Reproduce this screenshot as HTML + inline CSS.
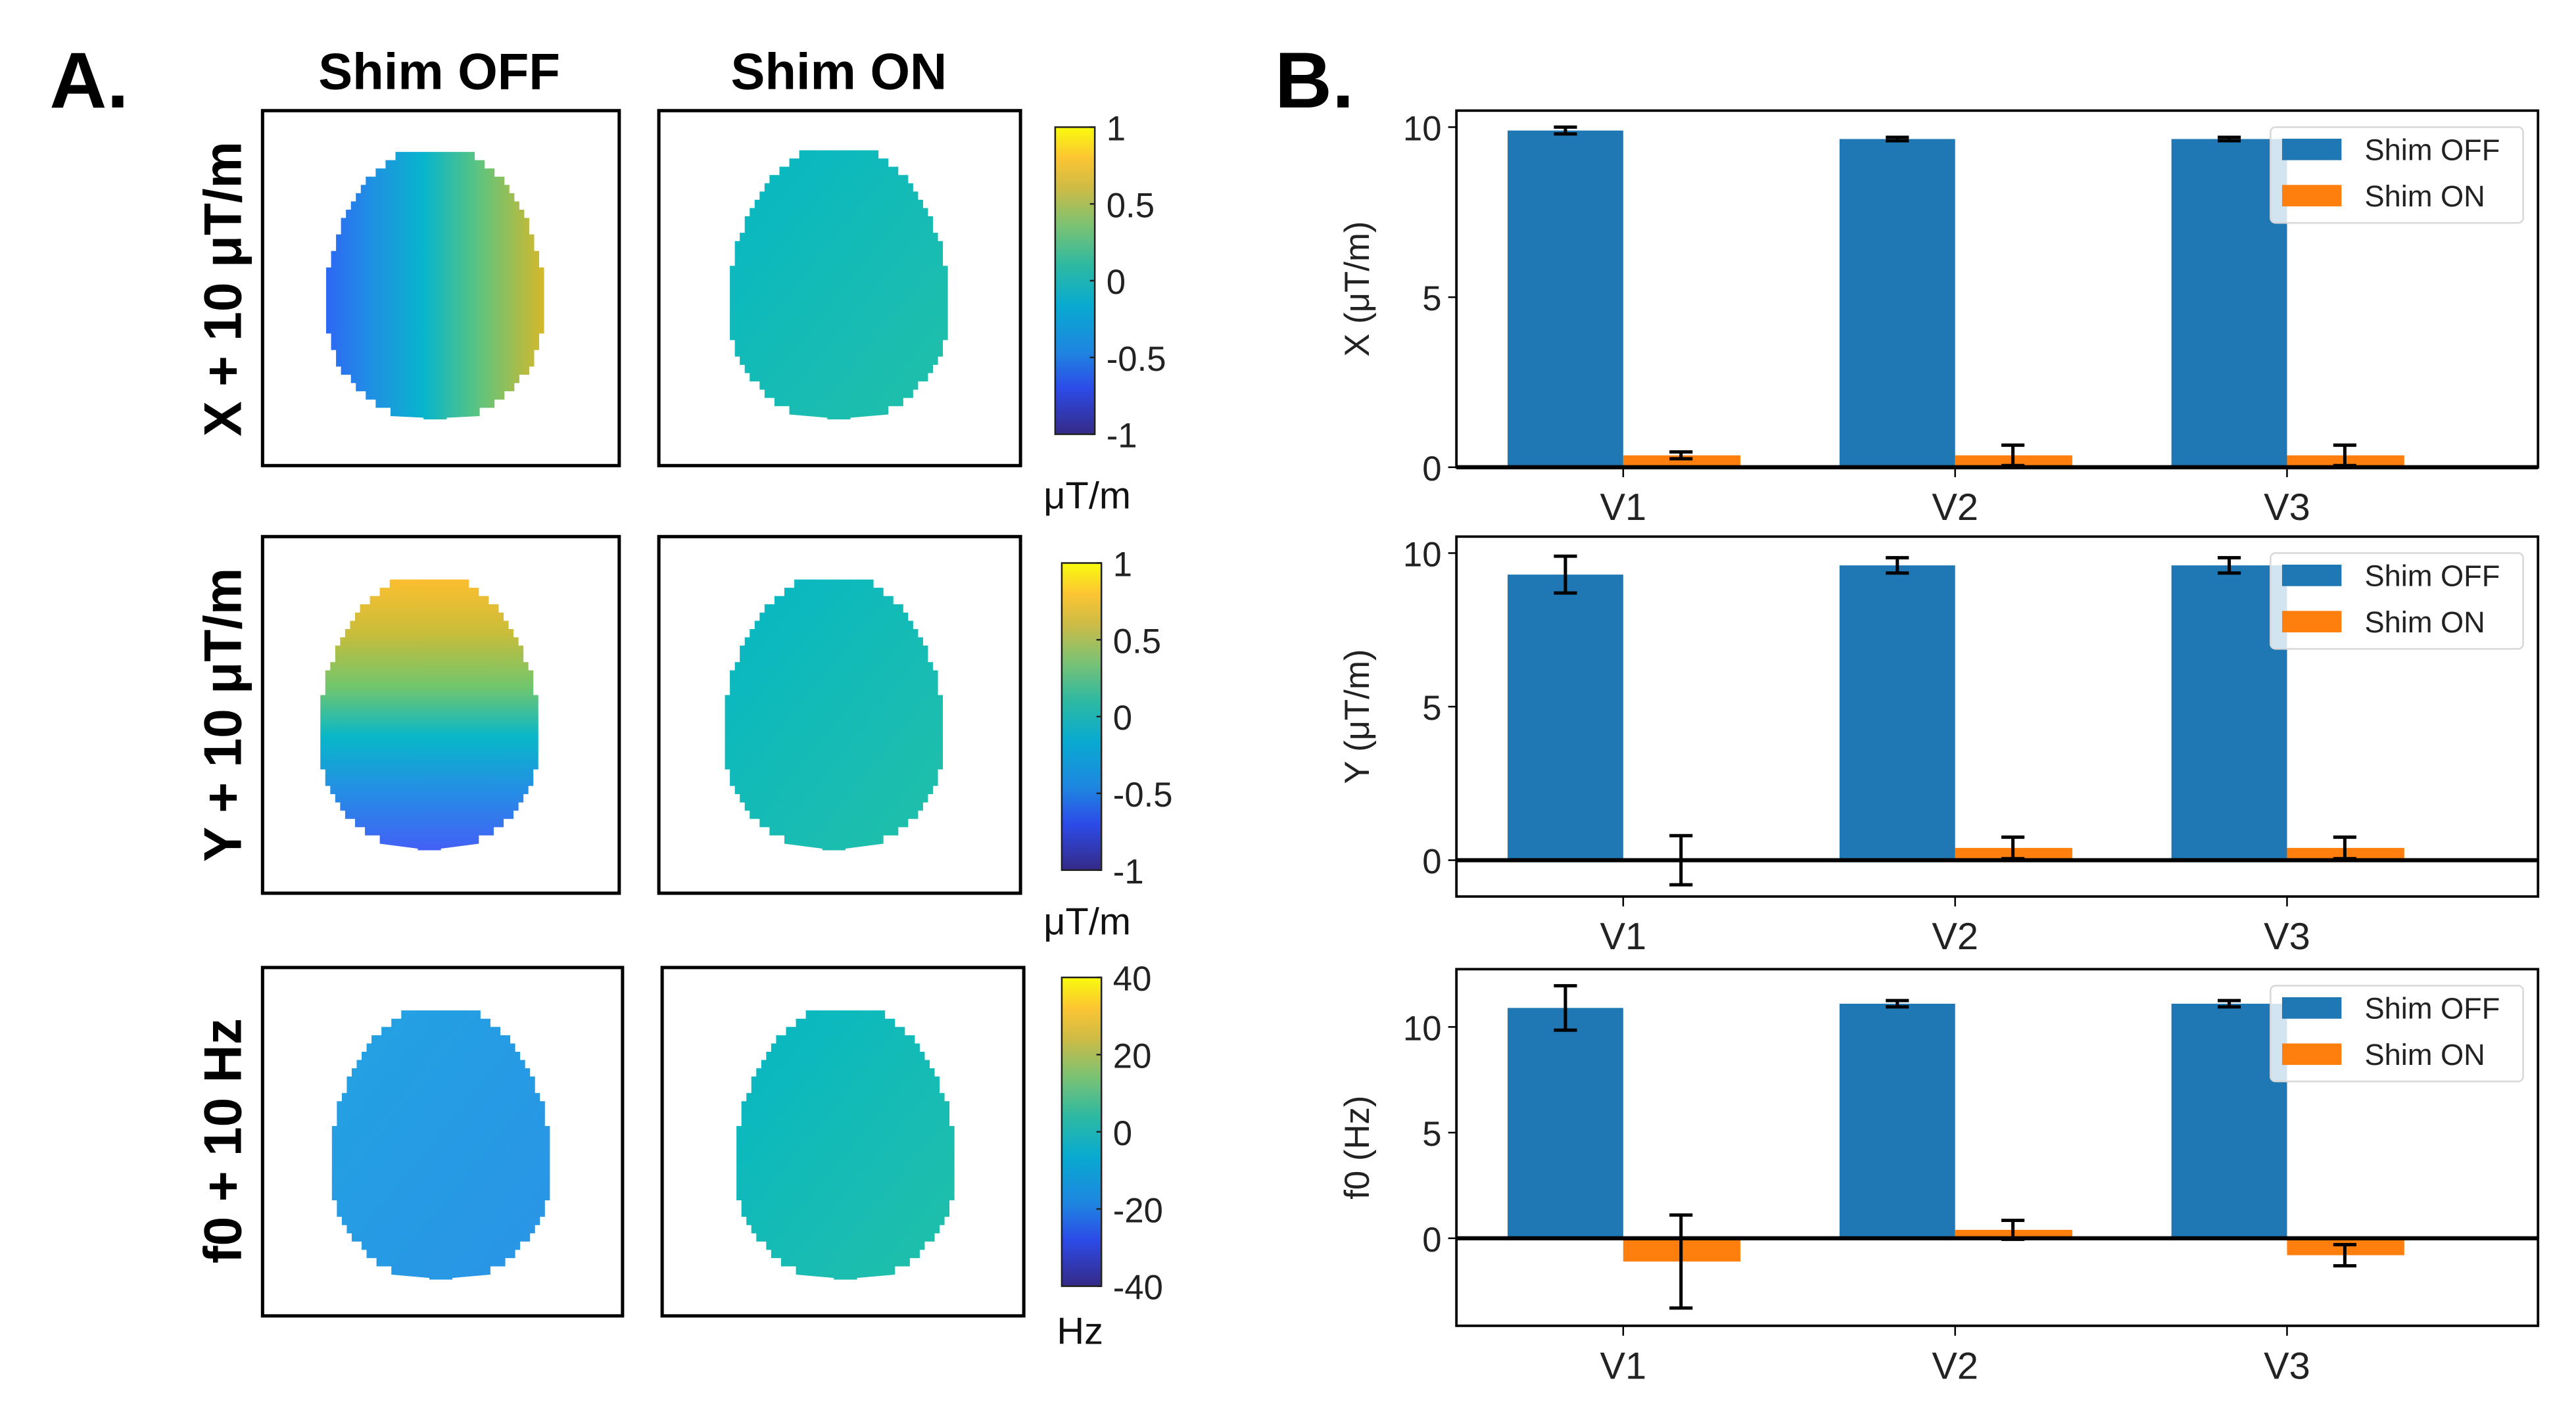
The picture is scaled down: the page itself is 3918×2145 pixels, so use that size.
<!DOCTYPE html>
<html><head><meta charset="utf-8"><style>
html,body{margin:0;padding:0;background:#fff;overflow:hidden;}
svg{display:block;}
text{font-family:"Liberation Sans","DejaVu Sans",sans-serif;}
</style></head>
<body>
<svg id="fig" xmlns="http://www.w3.org/2000/svg" width="3918" height="2145" viewBox="0 0 1560 854" preserveAspectRatio="none">
<defs>
<linearGradient id="parula" x1="0" y1="1" x2="0" y2="0">
<stop offset="0" stop-color="#352a87"/><stop offset="0.15" stop-color="#2c4be8"/><stop offset="0.27" stop-color="#1e86e0"/><stop offset="0.42" stop-color="#08aad0"/><stop offset="0.55" stop-color="#2db9a2"/><stop offset="0.68" stop-color="#7cc273"/><stop offset="0.8" stop-color="#cdbb46"/><stop offset="0.9" stop-color="#fcc532"/><stop offset="1" stop-color="#f9fb0e"/>
</linearGradient>
<linearGradient id="gx" x1="0" y1="0" x2="1" y2="0">
<stop offset="0" stop-color="#2d68f4"/><stop offset="0.22" stop-color="#1f92e2"/><stop offset="0.45" stop-color="#07b5cc"/><stop offset="0.7" stop-color="#5dc47e"/><stop offset="1" stop-color="#d6b82a"/>
</linearGradient>
<linearGradient id="gy" x1="0" y1="0" x2="0" y2="1">
<stop offset="0" stop-color="#fcbe30"/><stop offset="0.2" stop-color="#c8bd3a"/><stop offset="0.4" stop-color="#6fc66e"/><stop offset="0.58" stop-color="#08b7c8"/><stop offset="0.78" stop-color="#248ee4"/><stop offset="1" stop-color="#4360f6"/>
</linearGradient>
<linearGradient id="gon" x1="0" y1="0" x2="1" y2="1">
<stop offset="0" stop-color="#06b7c4"/><stop offset="1" stop-color="#22bfa8"/>
</linearGradient>
<linearGradient id="gf" x1="0" y1="0" x2="1" y2="1">
<stop offset="0" stop-color="#22a2e2"/><stop offset="1" stop-color="#2a94e6"/>
</linearGradient>
</defs>

<text x="30" y="65" font-size="48" font-weight="bold">A.</text>
<text x="266" y="54" font-size="31" font-weight="bold" text-anchor="middle">Shim OFF</text>
<text x="508" y="54" font-size="31" font-weight="bold" text-anchor="middle">Shim ON</text>

<text transform="translate(146,175) rotate(-90)" font-size="32" font-weight="bold" text-anchor="middle">X + 10 μT/m</text>
<text transform="translate(146,433) rotate(-90)" font-size="32" font-weight="bold" text-anchor="middle">Y + 10 μT/m</text>
<text transform="translate(146,691) rotate(-90)" font-size="32" font-weight="bold" text-anchor="middle">f0 + 10 Hz</text>

<g id="maps"></g>

<text x="772" y="65" font-size="48" font-weight="bold">B.</text>
<g id="charts"></g>
</svg>

<script>
const NS = "http://www.w3.org/2000/svg";
function mk(tag, attrs, parent){ const e=document.createElementNS(NS,tag); for(const k in attrs) e.setAttribute(k,attrs[k]); parent.appendChild(e); return e; }

const maps = document.getElementById('maps');
const mapBoxes = [
  {x:159,y:67,w:216,h:215,fill:'url(#gx)',hx:[197,330],hy:[92,254],name:'map-x-shim-off'},
  {x:399,y:67,w:219,h:215,fill:'url(#gon)',hx:[441,575],hy:[91,254],name:'map-x-shim-on'},
  {x:159,y:325,w:216,h:216,fill:'url(#gy)',hx:[193,327],hy:[351,515],name:'map-y-shim-off'},
  {x:399,y:325,w:219,h:216,fill:'url(#gon)',hx:[438,572],hy:[351,515],name:'map-y-shim-on'},
  {x:159,y:586,w:218,h:211,fill:'url(#gf)',hx:[200,334],hy:[612,775],name:'map-f0-shim-off'},
  {x:401,y:586,w:219,h:211,fill:'url(#gon)',hx:[445,579],hy:[612,775],name:'map-f0-shim-on'}
];
function headPath(x0,x1,y0,y1){
  const cx=(x0+x1)/2, hw=(x1-x0)/2, H=y1-y0-6, step=5;
  let right=[], left=[];
  for(let yy=0; yy<=H; yy+=step){
    const t=yy/H; let w;
    if(t<0.6){ const u=(0.6-t)/0.64; w=Math.sqrt(Math.max(0,1-u*u));}
    else { const u=(t-0.6)/0.43; w=Math.sqrt(Math.max(0,1-u*u)); }
    w=Math.max(w,0.25);
    const px=Math.round(hw*w/3)*3;
    right.push([cx+px,y0+yy]); left.push([cx-px,y0+yy]);
  }
  let d='M'+left[0][0]+' '+left[0][1];
  for(let i=0;i<right.length;i++){ const p=right[i]; d+=' L'+p[0]+' '+p[1]+' L'+p[0]+' '+(p[1]+step); }
  d+=' L'+(cx+7)+' '+(y0+H+step)+' L'+(cx+7)+' '+y1+' L'+(cx-7)+' '+y1+' L'+(cx-7)+' '+(y0+H+step);
  for(let i=left.length-1;i>=0;i--){ const p=left[i]; d+=' L'+p[0]+' '+(p[1]+step)+' L'+p[0]+' '+p[1]; }
  return d+' Z';
}
mapBoxes.forEach(b=>{
  const g=mk('g',{},maps);
  
  
  const r=mk('rect',{x:b.x,y:b.y,width:b.w,height:b.h,fill:'#fff',stroke:'#000','stroke-width':2},g);
  
  
  const p=mk('path',{d:headPath(b.hx[0],b.hx[1],b.hy[0],b.hy[1]),fill:b.fill},g);
  
  
});

const cbars = [
  {x:639,y:77,h:186,labels:['1','0.5','0','-0.5','-1'],unit:'μT/m',ux:632,uy:308,name:'colorbar-x'},
  {x:643,y:341,h:186,labels:['1','0.5','0','-0.5','-1'],unit:'μT/m',ux:632,uy:566,name:'colorbar-y'},
  {x:643,y:592,h:187,labels:['40','20','0','-20','-40'],unit:'Hz',ux:640,uy:814,name:'colorbar-f0'}
];
cbars.forEach(c=>{
  const g=mk('g',{},maps);
  
  
  mk('rect',{x:c.x,y:c.y,width:24,height:c.h,fill:'url(#parula)',stroke:'#222','stroke-width':1},g);
  c.labels.forEach((l,i)=>{
    const yy=c.y+c.h*i/4;
    mk('line',{x1:c.x+21,x2:c.x+24,y1:yy,y2:yy,stroke:'#222','stroke-width':1},g);
    const t=mk('text',{x:c.x+31,y:yy+8,'font-size':21,fill:'#222'},g);
    t.textContent=l;
    
    
  });
  const u=mk('text',{x:c.ux,y:c.uy,'font-size':23,fill:'#111'},g);
  u.textContent=c.unit;
  
  
});

const categories = ['V1','V2','V3'];
const xOffMean = [9.9, 9.65, 9.65];
const xOffErr  = [0.1, 0.05, 0.05];
const xOnMean  = [0.35, 0.35, 0.35];
const xOnErr   = [0.1, 0.3, 0.3];
const yOffMean = [9.3, 9.6, 9.6];
const yOffErr  = [0.6, 0.25, 0.25];
const yOnMean  = [0.0, 0.4, 0.4];
const yOnErr   = [0.8, 0.35, 0.35];
const fOffMean = [10.9, 11.1, 11.1];
const fOffErr  = [1.05, 0.15, 0.15];
const fOnMean  = [-1.1, 0.4, -0.8];
const fOnErr   = [2.2, 0.45, 0.5];
const yTicks   = [0, 5, 10];
const legendLabels = ['Shim OFF','Shim ON'];

const panels = [
  {top:67,bottom:283,zeroY:283,tenY:77,ylabel:'X (μT/m)',off:xOffMean,offE:xOffErr,on:xOnMean,onE:xOnErr,name:'chart-x'},
  {top:325,bottom:543,zeroY:521,tenY:335,ylabel:'Y (μT/m)',off:yOffMean,offE:yOffErr,on:yOnMean,onE:yOnErr,name:'chart-y'},
  {top:587,bottom:803,zeroY:750,tenY:622,ylabel:'f0 (Hz)',off:fOffMean,offE:fOffErr,on:fOnMean,onE:fOnErr,name:'chart-f0'}
];
const charts=document.getElementById('charts');
const AX0=882, AX1=1537, CAT0=983, CATSTEP=201, BW=70;
const BLUE='#1f77b4', ORANGE='#ff7f0e';
function xScale(i){ return CAT0+CATSTEP*i; }

panels.forEach(P=>{
  const g=mk('g',{},charts);
  
  
  const pxPer=(P.zeroY-P.tenY)/10;
  const yS=v=>P.zeroY - v*pxPer;
  categories.forEach((c,i)=>{
    const cx=xScale(i);
    const v1=P.off[i], v2=P.on[i];
    const b1=mk('rect',{x:cx-BW,y:Math.min(yS(v1),yS(0)),width:BW,height:Math.abs(yS(v1)-yS(0)),fill:BLUE},g);
    
    
    const b2=mk('rect',{x:cx,y:Math.min(yS(v2),yS(0)),width:BW+1,height:Math.abs(yS(v2)-yS(0)),fill:ORANGE},g);
    
    
  });
  mk('line',{x1:AX0,x2:AX1,y1:yS(0),y2:yS(0),stroke:'#000','stroke-width':2.5},g);
  categories.forEach((c,i)=>{
    [[xScale(i)-BW/2,P.off[i],P.offE[i]],[xScale(i)+BW/2,P.on[i],P.onE[i]]].forEach(([ex,m,e],k)=>{
      const eg=mk('g',{stroke:'#000','stroke-width':2},g);
      
      
      mk('line',{x1:ex,x2:ex,y1:yS(m-e),y2:yS(m+e)},eg);
      mk('line',{x1:ex-7,x2:ex+7,y1:yS(m-e),y2:yS(m-e)},eg);
      mk('line',{x1:ex-7,x2:ex+7,y1:yS(m+e),y2:yS(m+e)},eg);
    });
  });
  const fr=mk('rect',{x:AX0,y:P.top,width:AX1-AX0,height:P.bottom-P.top,fill:'none',stroke:'#000','stroke-width':1.5},g);
  
  
  yTicks.forEach(t=>{
    mk('line',{x1:AX0-5,x2:AX0,y1:yS(t),y2:yS(t),stroke:'#000','stroke-width':1},g);
    const tl=mk('text',{x:AX0-9,y:yS(t)+8,'font-size':21,'text-anchor':'end',fill:'#222'},g);
    tl.textContent=t;
    
    
  });
  categories.forEach((c,i)=>{
    mk('line',{x1:xScale(i),x2:xScale(i),y1:P.bottom,y2:P.bottom+6,stroke:'#000','stroke-width':1},g);
    const xl=mk('text',{x:xScale(i),y:P.bottom+32,'font-size':23,'text-anchor':'middle',fill:'#222'},g);
    xl.textContent=c;
    
    
  });
  const yl=mk('text',{transform:'translate(829,'+((P.top+P.bottom)/2)+') rotate(-90)','font-size':21,'text-anchor':'middle',fill:'#222','font-family':'"DejaVu Sans",sans-serif'},g);
  yl.textContent=P.ylabel;
  
  
  const lg=mk('g',{},g);
  
  
  const ly=P.top+10;
  mk('rect',{x:1375,y:ly,width:153,height:58,rx:3,fill:'rgba(255,255,255,0.8)',stroke:'#d8d8d8','stroke-width':1},lg);
  legendLabels.forEach((l,k)=>{
    mk('rect',{x:1382,y:ly+7+k*28,width:36,height:13,fill:k===0?BLUE:ORANGE},lg);
    const lt=mk('text',{x:1432,y:ly+20+k*28,'font-size':18,fill:'#222','font-family':'"DejaVu Sans",sans-serif'},lg);
    lt.textContent=l;
    
    
  });
});
</script>
</body></html>
